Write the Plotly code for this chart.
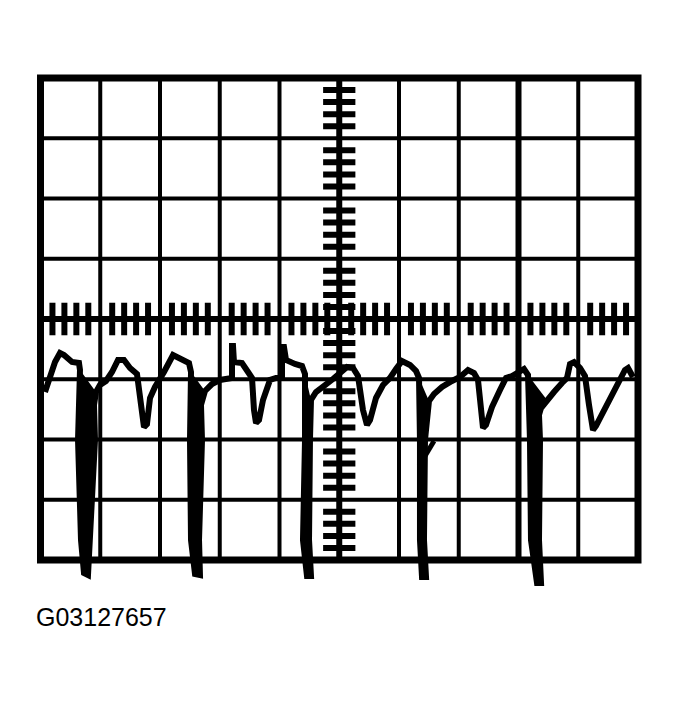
import plotly.graph_objects as go

# Oscilloscope screen: 10 x 8 divisions, centre at (5, 0)
n_xdiv = 10
n_ydiv = 8
sub_div = 5  # minor ticks per division on the centre axes

# Waveform trace (x in divisions from left edge, y in divisions from centre)
wave_x = [
    0.075, 0.159, 0.243, 0.326, 0.393, 0.527, 0.644, 0.661, 0.628, 0.678,
    0.728, 0.795, 0.828, 0.912, 0.895, 0.929, 0.996, 1.096, 1.197,
    1.297, 1.397, 1.498, 1.615, 1.682, 1.732, 1.782, 1.833, 1.916, 2.000,
    2.067, 2.218, 2.368, 2.485, 2.519, 2.502, 2.519, 2.586, 2.669, 2.653,
    2.703, 2.686, 2.753, 2.870, 3.004, 3.138, 3.205, 3.205, 3.222,
    3.238, 3.372, 3.473, 3.540, 3.573, 3.607, 3.657, 3.724, 3.841, 3.941,
    4.042, 4.042, 4.075, 4.109, 4.259, 4.377, 4.427, 4.427, 4.393, 4.460,
    4.527, 4.494, 4.510, 4.527, 4.611, 4.745, 4.895, 5.013, 5.130, 5.230,
    5.314, 5.397, 5.464, 5.515, 5.615, 5.732, 5.849,
    5.950, 6.050, 6.184, 6.285, 6.335, 6.351, 6.351, 6.385, 6.452, 6.418,
    6.435, 6.469, 6.502, 6.586, 6.720, 6.887, 7.021, 7.155, 7.255, 7.322,
    7.372, 7.406, 7.456, 7.556, 7.690, 7.791,
    7.891, 7.992, 8.092, 8.159, 8.192, 8.209, 8.310, 8.377, 8.343, 8.360,
    8.343, 8.377, 8.477, 8.594, 8.728, 8.812, 8.862, 8.929, 9.029, 9.113,
    9.180, 9.247, 9.297, 9.414, 9.565, 9.699, 9.782, 9.833, 9.916,
]
wave_y = [
    -1.212, -0.929, -0.714, -0.564, -0.598, -0.714, -0.730, -0.846, -2.008, -3.668,
    -4.216, -4.249, -3.668, -2.008, -1.427, -1.212, -1.095, -1.029, -0.880,
    -0.680, -0.680, -0.813, -0.913, -1.427, -1.793, -1.743, -1.311, -1.129, -1.012,
    -0.880, -0.598, -0.680, -0.730, -0.880, -2.008, -3.668, -4.232, -4.249, -3.668,
    -2.008, -1.427, -1.195, -1.079, -1.012, -0.996, -0.979, -0.448, -0.448,
    -0.714, -0.730, -0.880, -0.979, -1.510, -1.726, -1.676, -1.344, -1.012, -0.979,
    -0.979, -0.465, -0.465, -0.680, -0.747, -0.780, -0.913, -2.008, -3.668, -4.266,
    -4.266, -3.668, -2.008, -1.344, -1.212, -1.095, -0.996, -0.896, -0.797, -0.813,
    -0.946, -1.510, -1.759, -1.676, -1.311, -1.095, -0.979,
    -0.830, -0.697, -0.763, -0.863, -0.979, -2.008, -3.668, -4.282, -4.282, -3.668,
    -2.008, -1.510, -1.361, -1.245, -1.129, -1.029, -0.963, -0.846, -0.896, -1.012,
    -1.510, -1.809, -1.759, -1.461, -1.178, -0.979,
    -0.946, -0.880, -0.830, -0.929, -2.008, -3.668, -4.382, -4.382, -3.668, -2.008,
    -1.593, -1.477, -1.344, -1.212, -1.062, -0.979, -0.747, -0.714, -0.813, -0.946,
    -1.427, -1.842, -1.776, -1.544, -1.278, -1.029, -0.846, -0.813, -0.963,
]
# short overlapping retrace segment near the 4th firing spike
ghost_x = [6.335, 6.586]
ghost_y = [-2.440, -2.025]

caption = "G03127657"

x0, x1 = 0, n_xdiv
y0, y1 = -n_ydiv / 2, n_ydiv / 2
xc, yc = n_xdiv / 2, 0

shapes = []
def seg(xa, ya, xb, yb, w):
    shapes.append(dict(type="line", xref="x", yref="y", x0=xa, y0=ya, x1=xb, y1=yb,
                       line=dict(color="black", width=w), layer="below"))

# graticule
for i in range(1, n_xdiv):
    w = 6 if i == 8 else 4
    if i == xc:
        w = 6
    seg(i, y0, i, y1, w)
for j in range(1, n_ydiv):
    yv = y0 + j
    seg(x0, yv, x1, yv, 6 if yv == yc else 4)
shapes.append(dict(type="rect", xref="x", yref="y", x0=x0, y0=y0, x1=x1, y1=y1,
                   line=dict(color="black", width=7), layer="below"))

# minor ticks on centre axes
tick_half = 0.27
tx, ty = [], []
for k in range(1, n_xdiv * sub_div):
    if k % sub_div == 0:
        continue
    xv = k / sub_div
    tx += [xv, xv, None]
    ty += [yc - tick_half, yc + tick_half, None]
vx, vy = [], []
for k in range(1, n_ydiv * sub_div):
    if k % sub_div == 0:
        continue
    yv = y0 + k / sub_div
    vx += [xc - tick_half, xc + tick_half, None]
    vy += [yv, yv, None]

fig = go.Figure()
fig.add_trace(go.Scatter(x=tx, y=ty, mode="lines", line=dict(color="black", width=6),
                         hoverinfo="skip", showlegend=False))
fig.add_trace(go.Scatter(x=vx, y=vy, mode="lines", line=dict(color="black", width=6),
                         hoverinfo="skip", showlegend=False))

# the firing spikes are smeared solid on the screen: fill each deep excursion
runs, cur = [], []
for i, yv in enumerate(wave_y):
    if yv < -1.4:
        cur.append(i)
    else:
        if cur:
            runs.append(cur)
        cur = []
if cur:
    runs.append(cur)
for run in runs:
    if min(wave_y[i] for i in run) > -3.0:
        continue
    idx = [run[0] - 1] + run + [run[-1] + 1]
    fig.add_trace(go.Scatter(x=[wave_x[i] for i in idx], y=[wave_y[i] for i in idx],
                             mode="lines", fill="toself", fillcolor="black",
                             line=dict(color="black", width=2), hoverinfo="skip",
                             showlegend=False, cliponaxis=False))

fig.add_trace(go.Scatter(x=wave_x, y=wave_y, mode="lines",
                         line=dict(color="black", width=6), showlegend=False,
                         cliponaxis=False))
fig.add_trace(go.Scatter(x=ghost_x, y=ghost_y, mode="lines",
                         line=dict(color="black", width=5), showlegend=False))

# page has an 8px body margin around the figure
W, H = 671, 695
ml, mr, mt, mb = 12, 19, 52, 103
fig.update_layout(
    width=W, height=H,
    margin=dict(l=ml, r=mr, t=mt, b=mb),
    paper_bgcolor="white", plot_bgcolor="white",
    shapes=shapes,
    xaxis=dict(range=[-0.3431, 10.3682], visible=False, fixedrange=True),
    yaxis=dict(range=[-4.6639, 4.2988], visible=False, fixedrange=True),
    annotations=[dict(text=caption, xref="paper", yref="paper",
                      x=(26 - ml) / (W - ml - mr), y=(H - mb - 609) / (H - mt - mb),
                      xanchor="left", yanchor="middle", showarrow=False,
                      font=dict(family="Liberation Sans, Arial", size=25, color="black"))],
)
fig.write_html("out.html")
